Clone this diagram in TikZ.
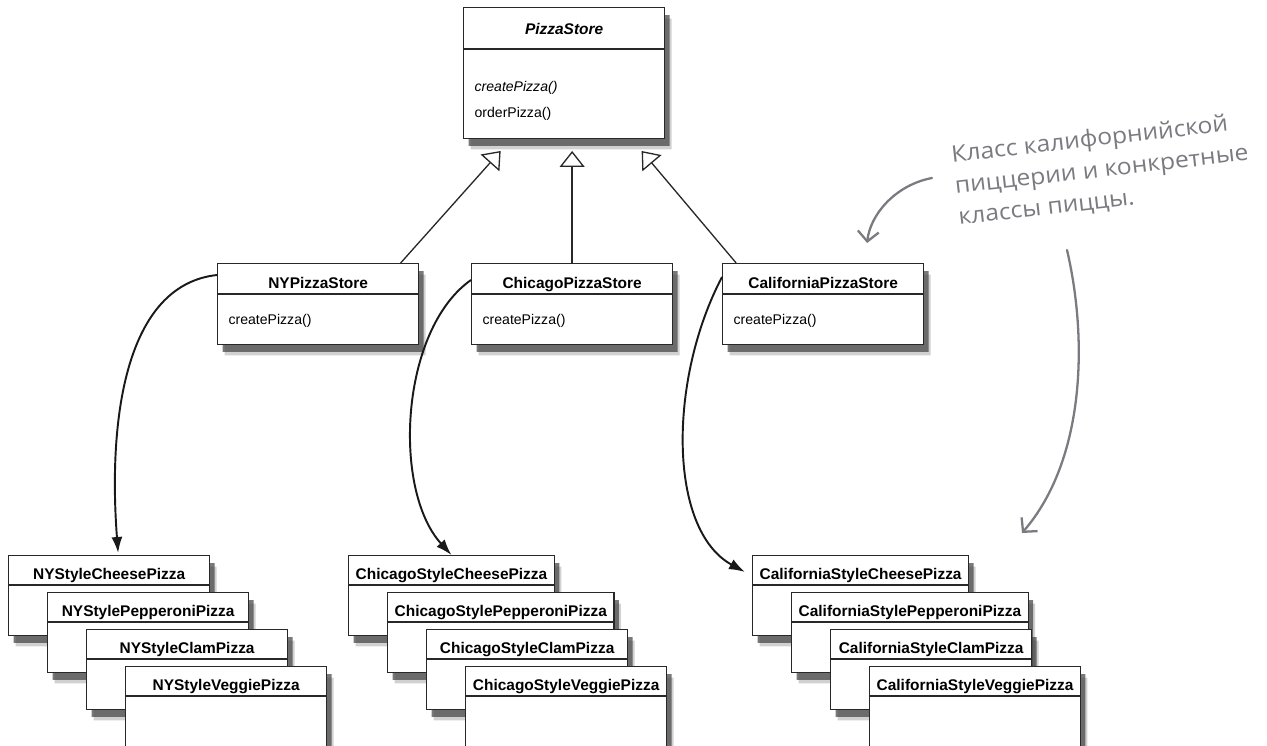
\documentclass[tikz,border=0pt]{standalone}
\usepackage{fontspec}
\setmainfont{Liberation Sans}
\newfontfamily\notefont[FakeStretch=1.08]{Open Sans}
\usetikzlibrary{arrows.meta, shapes.multipart, shadows}
\definecolor{umlline}{RGB}{40,40,40}
\definecolor{notegray}{RGB}{122,122,128}

\newcommand{\titlefont}{\fontsize{8.8}{10}\selectfont\bfseries}
\newcommand{\pizzahead}{\rule[-0.1cm]{0pt}{0.56cm}}
\newcommand{\storehead}{\rule[-0.1cm]{0pt}{0.58cm}}
\newcommand{\storebody}{\rule[-0.38cm]{0pt}{0.98cm}\hspace*{0.08cm}}
\newcommand{\emptybody}{\rule{0pt}{0.98cm}}

\begin{document}
\begin{tikzpicture}[x=0.02cm, y=-0.02cm,
        umlbox/.style={rectangle split, rectangle split parts=2,
                       rectangle split part align={center, left},
                       draw=umlline, line width=0.75pt, fill=white,
                       inner xsep=0.14cm, inner ysep=0pt, minimum width=4.02cm,
                       anchor=north west, font=\fontsize{8}{9.6}\selectfont,
                       drop shadow={shadow xshift=0.14cm, shadow yshift=-0.22cm,
                                    fill=black!60, opacity=0.3},
                       drop shadow={shadow xshift=0.1cm, shadow yshift=-0.15cm,
                                    fill=black!75, opacity=0.7}},
        inherit/.style={draw=umlline, line width=0.75pt,
                        -{Triangle[length=0.32cm, width=0.5cm, fill=white]}},
        creates/.style={draw=black!90, line width=1.1pt,
                        -{Latex[length=0.32cm, width=0.22cm]}},
        notearrow/.style={draw=notegray, line width=1.3pt, line cap=round,
                          -{Straight Barb[length=0.2cm, width=0.42cm]}},
        note/.style={text=notegray, font=\notefont\fontsize{13}{17.8}\selectfont,
                     align=left, inner sep=0pt, rotate=6.5, anchor=north west}
    ]
        \useasboundingbox (0,0) rectangle (1267,746);

        % abstract creator
        \node[umlbox] (pizzastore) at (463,7)
            {\rule[-0.28cm]{0pt}{0.8cm}\titlefont\itshape PizzaStore
             \nodepart{two}\begin{tabular}{@{}l@{}}
                \rule{0pt}{0.84cm}\hspace*{0.08cm}\textit{createPizza()}\\
                \rule{0pt}{0.42cm}\hspace*{0.08cm}orderPizza()\rule[-0.4cm]{0pt}{0pt}
             \end{tabular}};

        % concrete creators
        \foreach \col/\xx/\city in {ny/217/NY, chi/471/Chicago, cal/722/California}
        {
            \node[umlbox] (\col store) at (\xx,263)
                {\storehead\titlefont \city PizzaStore
                 \nodepart{two}\storebody createPizza()};
        }

        % products
        \foreach \col/\xx/\city in {ny/8/NY, chi/348/Chicago, cal/752/California}
        {
            \foreach \kind [count=\i from 0] in {Cheese, Pepperoni, Clam, Veggie}
            {
                \node[umlbox] (\col\kind) at ({\xx+39*\i},{555+37*\i})
                    {\pizzahead\titlefont \city Style\kind Pizza
                     \nodepart{two}\emptybody};
            }
        }

        \path ([yshift=-0.24cm]pizzastore.south) coordinate (pstip);
        \draw[inherit] ([xshift=1.65cm]nystore.north) -- ([xshift=-1.27cm]pstip);
        \draw[inherit] (chistore.north) -- (chistore.north |- pstip);
        \draw[inherit] ([xshift=-1.74cm]calstore.north) -- ([xshift=1.55cm]pstip);

        \draw[creates] ([yshift=-0.24cm]nystore.north west)
            .. controls (125,285) and (108,420) .. ([xshift=0.18cm,yshift=0.04cm]nyCheese.north);
        \draw[creates] ([yshift=-0.34cm]chistore.north west)
            .. controls (400,330) and (392,490) .. (chiCheese.north);
        \draw[creates] ([yshift=-0.28cm]calstore.north west)
            .. controls (668,380) and (668,530) .. ([xshift=-0.14cm,yshift=-0.34cm]calCheese.north west);

        % note
        \node[note] (calnote) at (950,145)
            {Класс калифорнийской\\пиццерии и конкретные\\классы пиццы.};
        \coordinate (noteA) at (932,178);
        \coordinate (noteB) at (1067,250);
        \coordinate (noteC) at (1022,533);
        \draw[notearrow] (noteA) .. controls (895,185) and (870,215)
            .. ([xshift=0.88cm,yshift=0.4cm]calstore.north);
        \draw[notearrow] (noteB) .. controls (1088,340) and (1085,460) .. (noteC);
    \end{tikzpicture}
\end{document}
